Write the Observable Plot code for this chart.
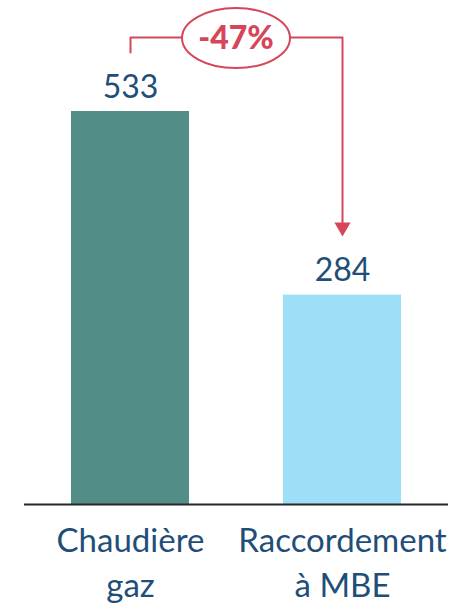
<!DOCTYPE html>
<html>
<head>
<meta charset="utf-8">
<script src="https://cdn.jsdelivr.net/npm/d3@7"></script>
<script src="https://cdn.jsdelivr.net/npm/@observablehq/plot@0.6"></script>
<style>
  html, body { margin: 0; padding: 0; background: #fff; }
  svg { display: block; }
</style>
</head>
<body>
<div id="chart"></div>
<script>
const categories = ["Chaudière gaz", "Raccordement à MBE"];
const categoryLabels = ["Chaudière\ngaz", "Raccordement\nà MBE"];
const values = [533, 284];
const barColors = ["#528E87", "#9DDFF8"];

const data = categories.map((c, i) => ({cat: c, label: categoryLabels[i], value: values[i], color: barColors[i]}));

const textBlue = "#1F4E79";
const red = "#D6465A";
const font = "Lato, 'Open Sans', sans-serif";

const maxV = d3.max(values);
const bracketTop = maxV * 1.188;
const bracketLeftBottom = maxV * 1.15;
const arrowTip = values[1] * 1.28;
const pct = Math.round((values[1] - values[0]) / values[0] * 100);
const pctLabel = `${pct < 0 ? "-" : "+"}${Math.abs(pct)}%`;

const bracketPath = [
  {x: categories[0], y: bracketLeftBottom},
  {x: categories[0], y: bracketTop},
  {x: categories[1], y: bracketTop},
  {x: categories[1], y: arrowTip + values[1] * 0.03}
];

const plot = Plot.plot({
  width: 474,
  height: 603,
  marginLeft: 24,
  marginRight: 26,
  marginTop: 0,
  marginBottom: 0,
  style: {fontFamily: font, background: "#fff"},
  x: {domain: categories, range: [24, 448], paddingInner: 0.443, paddingOuter: 0.2215, axis: null},
  y: {domain: [0, maxV], range: [504, 111], axis: null},
  marks: [
    Plot.barY(data, {x: "cat", y: "value", fill: "color"}),
    Plot.ruleY([0], {stroke: "#262626", strokeWidth: 1.8}),
    Plot.text(data, {x: "cat", y: "value", text: d => String(d.value), dy: -14, lineAnchor: "bottom", fill: textBlue, fontSize: 32}),
    Plot.text(data, {x: "cat", y: 0, text: "label", dy: 15, lineAnchor: "top", lineHeight: 1.38, fill: textBlue, fontSize: 33}),
    Plot.line(bracketPath, {x: "x", y: "y", stroke: red, strokeWidth: 2, curve: "linear"}),
    Plot.dot([{x: categories[1], y: arrowTip}], {x: "x", y: "y", symbol: "triangle", r: 6, rotate: 180, fill: red, stroke: "none", dy: -9.2})
  ]
});

// ellipse label for the change, placed between the two bar centres
const sx = plot.scale("x"), sy = plot.scale("y");
const cx = (sx.apply(categories[0]) + sx.apply(categories[1])) / 2 + sx.bandwidth / 2;
const cy = sy.apply(bracketTop);
const g = d3.select(plot).append("g");
g.append("ellipse").attr("cx", cx).attr("cy", cy + 1).attr("rx", 54).attr("ry", 30)
  .attr("fill", "#fff").attr("stroke", red).attr("stroke-width", 2);
g.append("text").attr("x", cx).attr("y", cy).attr("dy", "0.36em")
  .attr("text-anchor", "middle").attr("fill", red)
  .attr("font-family", font).attr("font-weight", "900").attr("font-size", 32)
  .text(pctLabel);

document.getElementById("chart").appendChild(plot);
</script>
</body>
</html>
